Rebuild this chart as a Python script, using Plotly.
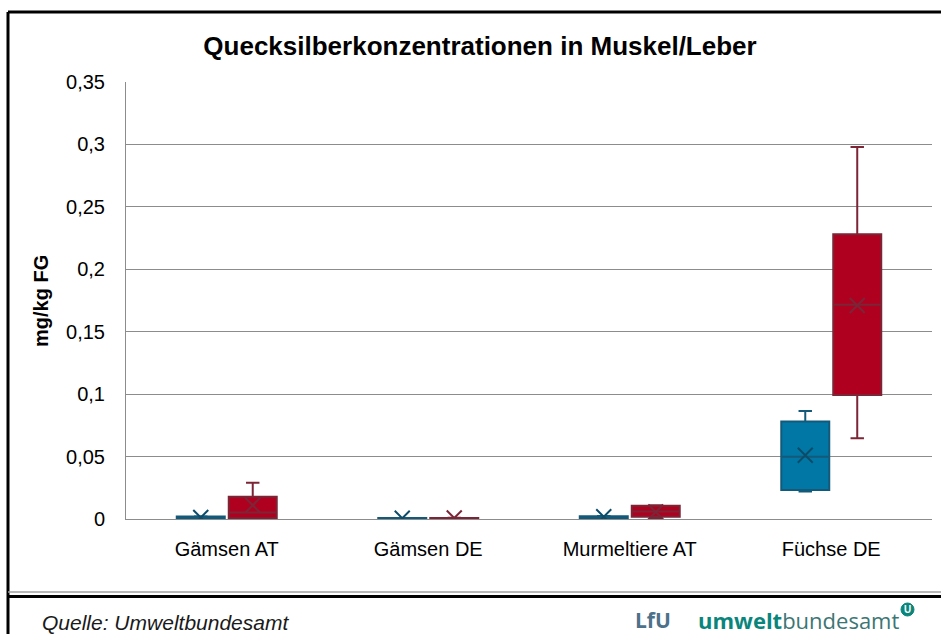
import plotly.graph_objects as go

# Mercury concentration statistics (mg/kg fresh weight)
categories = ["Gämsen AT", "Gämsen DE", "Murmeltiere AT", "Füchse DE"]

muskel_min = [0.0003, 0.0002, 0.0003, 0.0220]
muskel_q1 = [0.0005, 0.0003, 0.0005, 0.0232]
muskel_median = [0.0010, 0.0005, 0.0012, 0.0499]
muskel_q3 = [0.0020, 0.0008, 0.0022, 0.0780]
muskel_max = [0.0023, 0.0009, 0.0024, 0.0865]
muskel_mean = [0.0012, 0.0006, 0.0018, 0.0510]

leber_min = [0.0002, 0.0003, 0.0004, 0.0646]
leber_q1 = [0.0006, 0.0005, 0.0019, 0.0993]
leber_median = [0.0052, 0.0007, 0.0060, 0.1716]
leber_q3 = [0.0179, 0.0009, 0.0107, 0.2280]
leber_max = [0.0290, 0.0010, 0.0110, 0.2980]
leber_mean = [0.0110, 0.0008, 0.0056, 0.1710]

y_ticks = [0, 0.05, 0.1, 0.15, 0.2, 0.25, 0.3, 0.35]

W, H = 941, 634
L, R, T, B = 126, 9, 82, 115
PW, PH = W - L - R, H - T - B


def px(x):
    return (x - L) / PW


def py(y):
    return (H - B - y) / PH


FONT = "Liberation Sans, Arial, sans-serif"
BLUE_FILL, BLUE_LINE, BLUE_X = "#0077a4", "#135a7a", "#0d4c69"
RED_FILL, RED_LINE, RED_X = "#b0001f", "#7c2536", "#7a2638"

fig = go.Figure()

fig.add_trace(go.Box(
    name="Muskel", x=categories,
    q1=muskel_q1, median=muskel_median, q3=muskel_q3,
    lowerfence=muskel_min, upperfence=muskel_max,
    fillcolor=BLUE_FILL, line=dict(color=BLUE_LINE, width=2),
    whiskerwidth=0.28, boxpoints=False, offsetgroup="m",
))
fig.add_trace(go.Box(
    name="Leber", x=categories,
    q1=leber_q1, median=leber_median, q3=leber_q3,
    lowerfence=leber_min, upperfence=leber_max,
    fillcolor=RED_FILL, line=dict(color=RED_LINE, width=2),
    whiskerwidth=0.28, boxpoints=False, offsetgroup="l",
))

# Mean markers
fig.add_trace(go.Scatter(
    x=categories, y=muskel_mean, mode="markers", offsetgroup="m",
    marker=dict(symbol="x-thin", size=15, line=dict(color=BLUE_X, width=2)),
    showlegend=False, hoverinfo="y",
))
fig.add_trace(go.Scatter(
    x=categories, y=leber_mean, mode="markers", offsetgroup="l",
    marker=dict(symbol="x-thin", size=15, line=dict(color=RED_X, width=2)),
    showlegend=False, hoverinfo="y",
))

GAP = 0.484
fig.update_layout(
    width=W, height=H,
    margin=dict(l=L, r=R, t=T, b=B),
    paper_bgcolor="white", plot_bgcolor="white",
    separators=",.",
    showlegend=False,
    boxmode="group", boxgap=GAP, boxgroupgap=0.077,
    scattermode="group", scattergap=GAP,
    font=dict(family=FONT, color="black"),
    title=dict(
        text="<b>Quecksilberkonzentrationen in Muskel/Leber</b>",
        x=480 / W, xref="container", xanchor="center",
        y=1 - 46 / H, yref="container", yanchor="middle",
        font=dict(family=FONT, size=26, color="black"),
    ),
    xaxis=dict(
        type="category", categoryorder="array", categoryarray=categories,
        showline=True, linecolor="#8c8c8c", linewidth=1,
        showgrid=False, ticks="", ticklabelstandoff=12,
        tickfont=dict(family=FONT, size=20, color="black"),
    ),
    yaxis=dict(
        range=[0, 0.35], tickvals=y_ticks,
        showline=True, linecolor="#8c8c8c", linewidth=1,
        showgrid=True, gridcolor="#8c8c8c", gridwidth=1,
        zeroline=False, ticks="", ticklabelstandoff=16,
        tickfont=dict(family=FONT, size=20, color="black"),
    ),
)

fig.add_annotation(
    text="<b>mg/kg FG</b>", textangle=-90,
    x=px(41), y=py(301), xref="paper", yref="paper",
    xanchor="center", yanchor="middle",
    showarrow=False, font=dict(family=FONT, size=20, color="black"),
)

# Outer frame and footer separator
frame = dict(xref="paper", yref="paper", type="line")
fig.add_shape(**frame, x0=px(8), x1=px(8), y0=py(12), y1=py(660),
              line=dict(color="black", width=3))
fig.add_shape(**frame, x0=px(8), x1=px(960), y0=py(12), y1=py(12),
              line=dict(color="black", width=3))
fig.add_shape(**frame, x0=px(8), x1=px(960), y0=py(592), y1=py(592),
              line=dict(color="#a0a0a0", width=1.5))
fig.add_shape(**frame, x0=px(8), x1=px(960), y0=py(596.5), y1=py(596.5),
              line=dict(color="black", width=3))

# Footer
fig.add_annotation(
    text="<i>Quelle: Umweltbundesamt</i>",
    x=px(40), y=py(622), xref="paper", yref="paper",
    xanchor="left", yanchor="middle", showarrow=False,
    font=dict(family=FONT, size=21, color="#1a1a1a"),
)
fig.add_annotation(
    text="<b>LfU</b>",
    x=px(633), y=py(620), xref="paper", yref="paper",
    xanchor="left", yanchor="middle", showarrow=False,
    font=dict(family="Open Sans, sans-serif", size=21, color="#4d7189"),
)
fig.add_annotation(
    text="<b><span style='color:#0a857c'>umwelt</span></b>"
         "<span style='color:#3c7674'>bundesamt</span>",
    x=px(696), y=py(620), xref="paper", yref="paper",
    xanchor="left", yanchor="middle", showarrow=False,
    font=dict(family="Open Sans, sans-serif", size=22, color="#3c7674"),
)
fig.add_shape(type="circle", xref="paper", yref="paper",
              x0=px(901), x1=px(914), y0=py(603), y1=py(616),
              fillcolor="#0a857c", line=dict(color="#0a857c", width=1),
              layer="below")
fig.add_annotation(
    text="<b>U</b>", x=px(907.5), y=py(609.5), xref="paper", yref="paper",
    xanchor="center", yanchor="middle",
    showarrow=False, font=dict(family=FONT, size=10, color="white"),
)

fig.write_html("out.html")
